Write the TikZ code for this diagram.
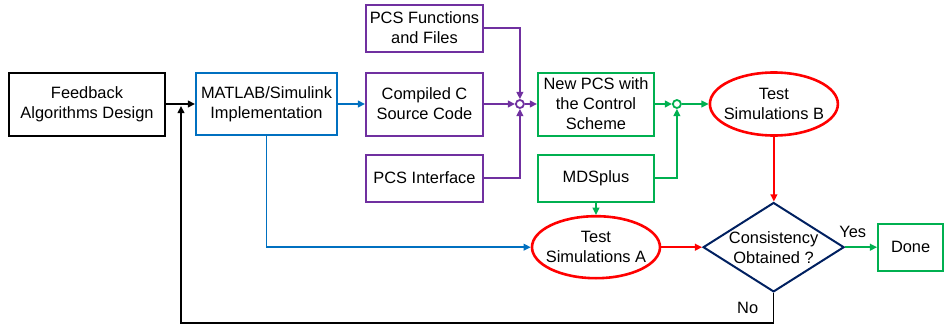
\documentclass[tikz,border=0pt]{standalone}
\usepackage{fontspec}
\setmainfont{Liberation Sans}
\usepackage{tikz}
\usetikzlibrary{positioning,shapes.geometric,arrows.meta}
\definecolor{implblue}{HTML}{0070C0}
\definecolor{pcspurple}{HTML}{7030A0}
\definecolor{pcsgreen}{HTML}{00B050}
\definecolor{simred}{HTML}{FF0000}
\definecolor{decnavy}{HTML}{002060}

\begin{document}
\begin{tikzpicture}[
                    >={Triangle[length=3.6pt,width=3.4pt]},
                    every node/.style={font=\fontsize{8.2}{10}\selectfont, align=center},
                    block/.style={rectangle, draw, line width=1pt, inner sep=1pt,
                    minimum height=23.5pt},
                    sim/.style={ellipse, draw=simred, line width=1.3pt,
                    inner sep=-4pt, minimum width=64pt, minimum height=31.5pt},
                    decision/.style={diamond, draw=decnavy, line width=1pt,
                    inner sep=-4pt, minimum width=70.5pt, minimum height=44.5pt},
                    junction/.style={circle, draw, line width=0.9pt, fill=white,
                    inner sep=0pt, minimum size=4pt},
                    link/.style={line width=0.8pt},
                ]
                \useasboundingbox (-43.5pt,-111.5pt) rectangle (428.5pt,52pt);
                \node[block, minimum width=78pt, minimum height=31.5pt] (feedback_design) at (0,0) {Feedback\\Algorithms Design};
                \node[block, draw=implblue, minimum width=70.5pt, minimum height=31pt] (matlab_impl) [right=14.5pt of feedback_design] {MATLAB/Simulink\\Implementation};
                \node[block, draw=pcspurple, minimum width=58.5pt, minimum height=31.5pt] (compiled_code) [right=13.5pt of matlab_impl] {Compiled C\\Source Code};
                \node[block, draw=pcspurple, minimum width=58.5pt] (pcs_functions) [above=9.5pt of compiled_code] {PCS Functions\\and Files};
                \node[block, draw=pcspurple, minimum width=58.5pt] (pcs_interface) [below=8.5pt of compiled_code] {PCS Interface};
                \node[junction, draw=pcspurple] (pcs_join) [right=15.5pt of compiled_code] {};
                \node[block, draw=pcsgreen, minimum width=58pt, minimum height=31.5pt] (new_pcs) [right=26.5pt of compiled_code] {New PCS with\\the Control\\Scheme};
                \node[block, draw=pcsgreen, minimum width=58pt] (mdsplus) [below=8.5pt of new_pcs] {MDSplus};
                \node[junction, draw=pcsgreen] (mds_join) [right=8.5pt of new_pcs] {};
                \node[sim] (test_b) [right=26.8pt of new_pcs] {Test\\Simulations B};
                \node[sim, minimum height=31pt] (test_a) [below=6.2pt of mdsplus] {Test\\Simulations A};
                \node[decision] (consistency) [right=20.4pt of test_a] {Consistency\\Obtained ?};
                \node[block, draw=pcsgreen, minimum width=32.5pt] (done) [right=16pt of consistency] {Done};
                \coordinate[below right=1pt and 7.5pt of feedback_design.east] (loop_back);

                % \draw[->] (feedback_design.east) -- (matlab_impl.west);
                \draw[link, ->] (feedback_design.east) -- (matlab_impl.west);
                \draw[link, implblue, ->] (matlab_impl.east) -- (compiled_code.west);
                \draw[link, implblue, ->] (matlab_impl.south) |- (test_a.west);
                \draw[link, pcspurple, ->] (pcs_functions.east) -| (pcs_join.north);
                \draw[link, pcspurple, ->] (compiled_code.east) -- (pcs_join.west);
                \draw[link, pcspurple, ->] (pcs_interface.east) -| (pcs_join.south);
                \draw[link, pcspurple, ->] (pcs_join.east) -- (new_pcs.west);
                \draw[link, pcsgreen, ->] (new_pcs.east) -- (mds_join.west);
                \draw[link, pcsgreen, ->] (mds_join.east) -- (test_b.west);
                \draw[link, pcsgreen, ->] (mdsplus.east) -| (mds_join.south);
                \draw[link, pcsgreen, ->] (mdsplus.south) -- (test_a.north);
                \draw[link, simred, ->] (test_b.south) -- (test_b.south |- consistency.north);
                \draw[link, simred, ->] (test_a.east) -- (consistency.west);
                \draw[link, pcsgreen, ->] (consistency.east) -- node[pos=0.24, above=1pt, text=black] (yes_label) {Yes} (done.west);
                \draw[link, ->] (consistency.south) -- node[pos=0.5, left=4pt] (no_label) {No} ++(0,-15pt) -| (loop_back);
            \end{tikzpicture}
\end{document}
